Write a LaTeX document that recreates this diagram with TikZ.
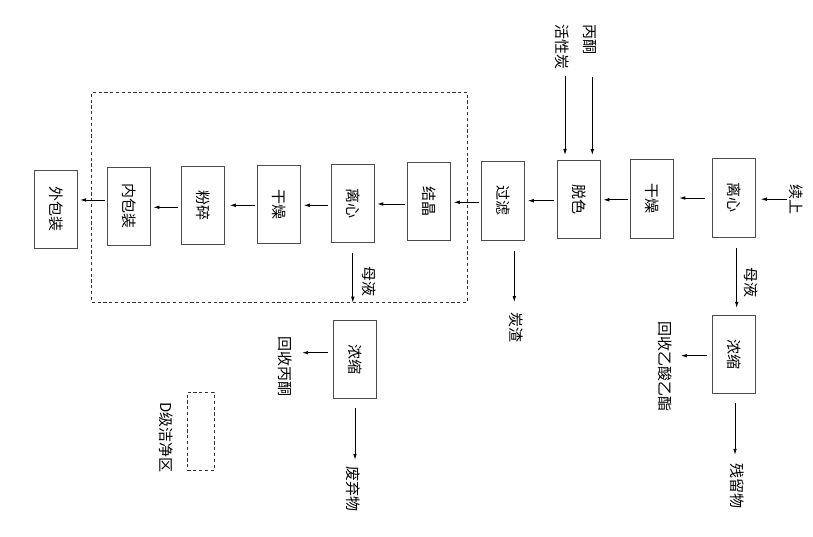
\documentclass[tikz,border=0pt]{standalone}
\usepackage{graphicx}
\usepackage{fontspec}
\newfontfamily\cjk{Noto Sans CJK SC}
\usetikzlibrary{arrows.meta}
\newcommand{\vtxt}[1]{\rotatebox{-90}{#1}}
\begin{document}
\begin{tikzpicture}[x=1pt,y=-1pt,
  box/.style={draw=black!70, line width=0.9pt, minimum width=43pt, minimum height=78.5pt, inner sep=0pt, font=\cjk\fontsize{15}{18}\selectfont},
  lbl/.style={font=\cjk\fontsize{15}{18}\selectfont, inner sep=1pt},
  arr/.style={-{Latex[length=6pt,width=3.6pt]}, line width=0.8pt},
  harr/.style={arr, shorten <=2.5pt, shorten >=2.5pt},
  zone/.style={draw=black!80, dash pattern=on 3.2pt off 2.6pt, line width=0.8pt, inner sep=0pt}]
\useasboundingbox (0,0) rectangle (813,537);

% process boxes
\node[box] (wbz) at (55.7,209.3) {\vtxt{外包装}};
\node[box] (nbz) at (129,206.5) {\vtxt{内包装}};
\node[box] (fs)  at (202.8,205.3) {\vtxt{粉碎}};
\node[box] (gz1) at (279.3,204.3) {\vtxt{干燥}};
\node[box] (lx1) at (352.8,203.3) {\vtxt{离心}};
\node[box] (jj)  at (429.3,201.7) {\vtxt{结晶}};
\node[box] (gl)  at (503.3,200.8) {\vtxt{过滤}};
\node[box] (ts)  at (578.8,199.7) {\vtxt{脱色}};
\node[box] (gz2) at (652.3,198.8) {\vtxt{干燥}};
\node[box] (lx2) at (733.8,198) {\vtxt{离心}};
\node[box] (ns1) at (355,359.5) {\vtxt{浓缩}};
\node[box] (ns2) at (734.3,354.5) {\vtxt{浓缩}};

% clean zone and legend
\node[zone, minimum width=375.6pt, minimum height=210pt] (dz) at (279.5,197.3) {};
\node[zone, minimum width=26.7pt, minimum height=77.7pt] (leg) at (200.7,431.2) {};

% labels
\node[lbl] (xs)   at (796.3,199.2) {\vtxt{续上}};
\node[lbl] (hxt)  at (562.5,47.5) {\vtxt{活性炭}};
\node[lbl] (bt)   at (589.8,39.7) {\vtxt{丙酮}};
\node[lbl] (my2)  at (751.5,282) {\vtxt{母液}};
\node[lbl] (my1)  at (369.5,281.5) {\vtxt{母液}};
\node[lbl] (hsbt) at (285,366) {\vtxt{回收丙酮}};
\node[lbl] (fqw)  at (353.3,489.2) {\vtxt{废弃物}};
\node[lbl] (hsyz) at (664.7,366.7) {\vtxt{回收乙酸乙酯}};
\node[lbl] (clw)  at (737,485.5) {\vtxt{残留物}};
\node[lbl] (tz)   at (516,327.3) {\vtxt{炭渣}};
\node[lbl] (dj)   at (165.8,437.5) {\vtxt{D级洁净区}};

% main line arrows
\draw[arr, shorten <=1pt, shorten >=5pt] (xs.west) -- (xs.west -| lx2.east);
\draw[arr, shorten <=7pt, shorten >=5pt] (lx2.west) -- (lx2.west -| gz2.east);
\draw[harr] ([yshift=-1pt]gz2.west) -- ([yshift=-1pt]gz2.west -| ts.east);
\draw[harr] ([yshift=-1pt]ts.west) -- ([yshift=-1pt]ts.west -| gl.east);
\draw[harr] ([yshift=-1.5pt]gl.west) -- ([yshift=-1.5pt]gl.west -| jj.east);
\draw[harr] ([yshift=-2.3pt]jj.west) -- ([yshift=-2.3pt]jj.west -| lx1.east);
\draw[harr] ([yshift=-2pt]lx1.west) -- ([yshift=-2pt]lx1.west -| gz1.east);
\draw[arr, shorten <=2.5pt, shorten >=5pt] ([yshift=-1pt]gz1.west) -- ([yshift=-1pt]gz1.west -| fs.east);
\draw[harr] ([yshift=-2pt]fs.west) -- ([yshift=-2pt]fs.west -| nbz.east);
\draw[harr] ([yshift=6.5pt]nbz.west) -- ([yshift=6.5pt]nbz.west -| wbz.east);

% feeds into decolouring
\draw[arr, shorten <=5pt, shorten >=5pt] ([xshift=2.5pt]hxt.south) -- ([xshift=2.5pt]hxt.south |- ts.north);
\draw[arr, shorten <=20.7pt, shorten >=5pt] ([xshift=2.5pt]bt.south) -- ([xshift=2.5pt]bt.south |- ts.north);

% right branch
\draw[arr, shorten <=10.7pt, shorten >=7pt] ([xshift=2.4pt]ns2.north |- lx2.south) -- ([xshift=2.4pt]ns2.north);
\draw[arr, shorten <=5pt, shorten >=8pt] ([yshift=-1.2pt]ns2.west) -- ([yshift=-1.2pt]ns2.west -| hsyz.east);
\draw[arr, shorten <=9pt, shorten >=7pt] ([xshift=0.7pt]ns2.south) -- ([xshift=0.7pt]ns2.south |- clw.north);

% filter residue
\draw[arr, shorten <=10pt, shorten >=9pt] ([xshift=11pt]gl.south) -- ([xshift=11pt]gl.south |- tz.north);

% left branch
\draw[arr, shorten <=9.7pt] (lx1.south) -- (lx1.south |- dz.south);
\draw[arr, shorten <=5.3pt, shorten >=9pt] ([yshift=6.8pt]ns1.west) -- ([yshift=6.8pt]ns1.west -| hsbt.east);
\draw[arr, shorten <=8.7pt, shorten >=5.7pt] (ns1.south) -- (ns1.south |- fqw.north);
\end{tikzpicture}
\end{document}
